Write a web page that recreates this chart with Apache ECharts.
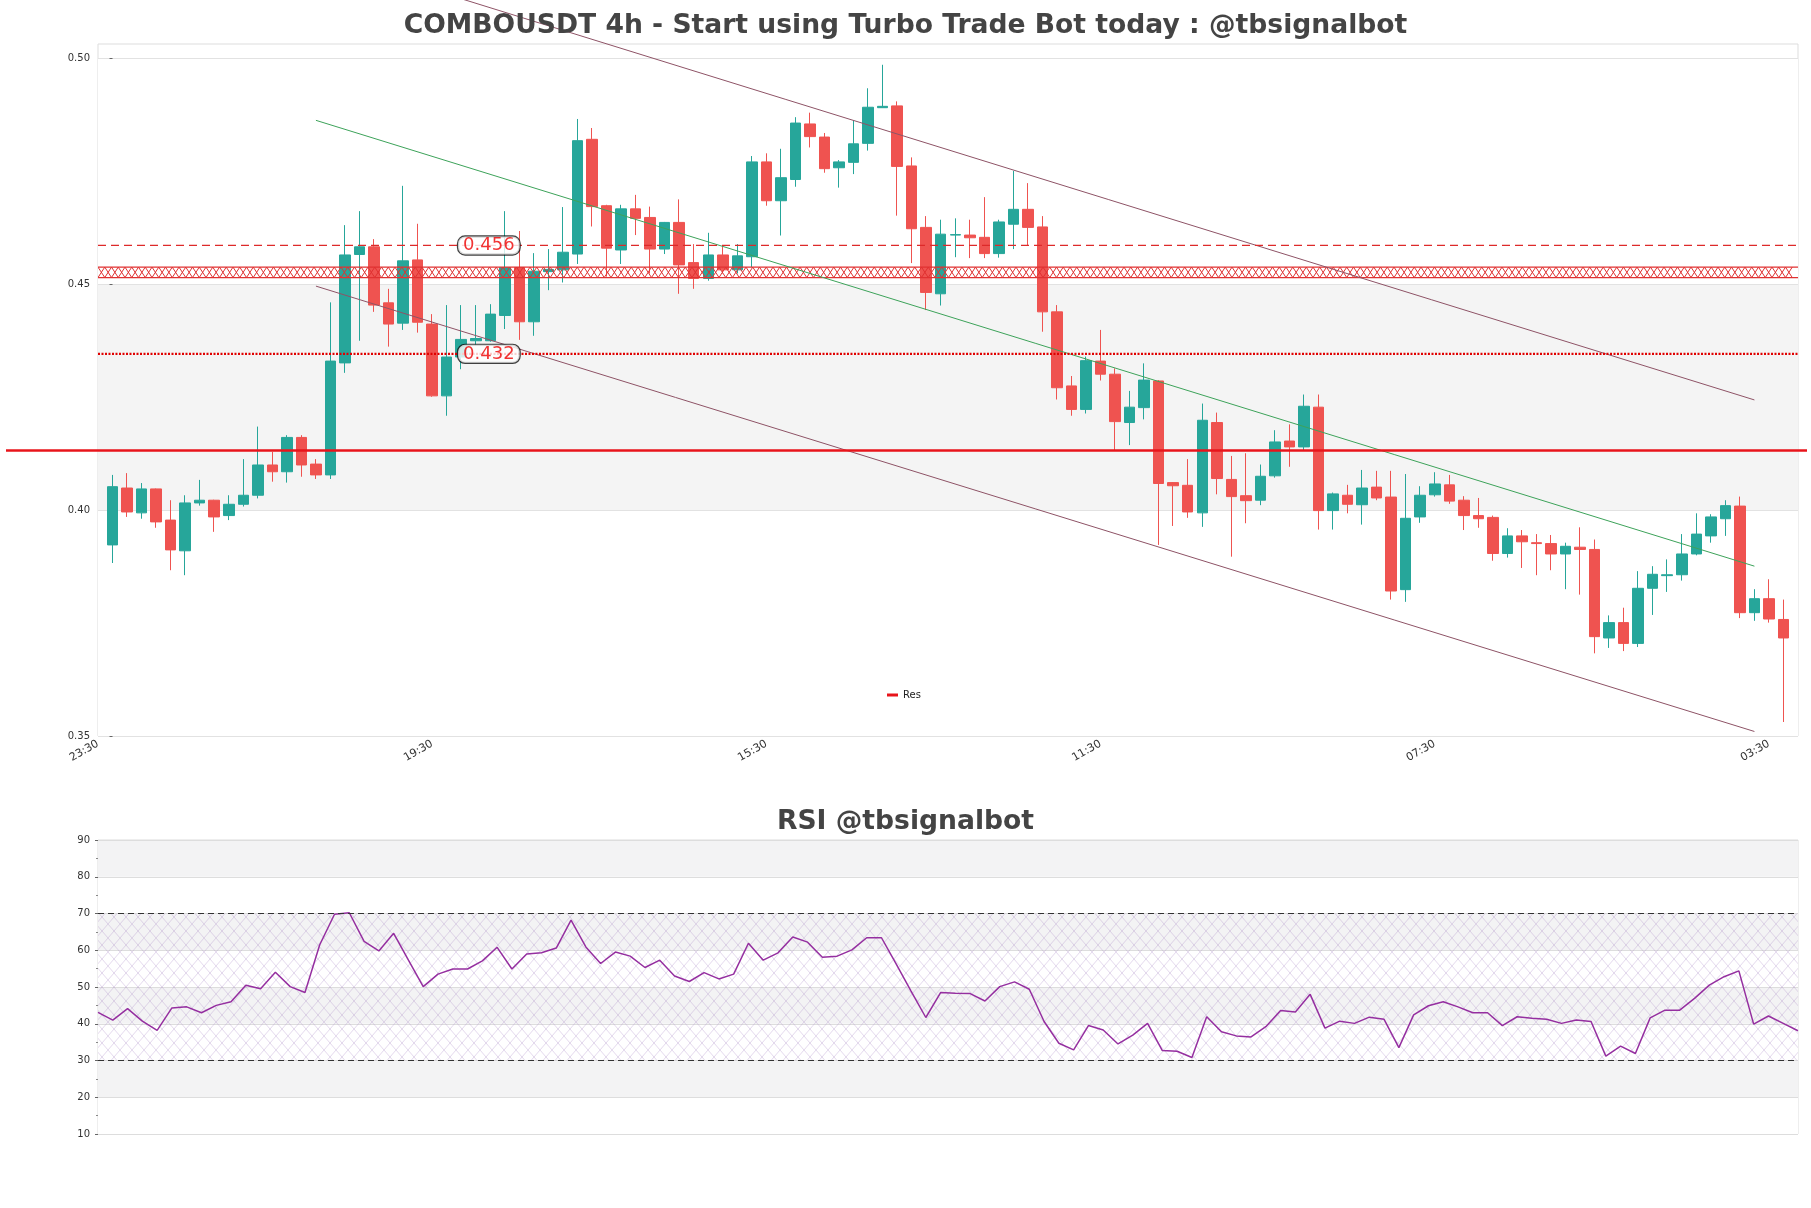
<!DOCTYPE html>
<html><head><meta charset="utf-8">
<script src="https://cdn.jsdelivr.net/npm/echarts@6/dist/echarts.min.js"></script>
<style>html,body{margin:0;padding:0;background:#fff}#c{width:1811px;height:1208px}</style>
</head><body><div id="c"></div>
<script>
// ---------- DATA ----------
const tickLabels = ['23:30','19:30','15:30','11:30','07:30','03:30'];
const priceTicks = [0.35, 0.40, 0.45, 0.50];
const opens  = [.3923,.4049,.3994,.4047,.3978,.3910,.4016,.4022,.3988,.4013,
 .4033,.4100,.4085,.4161,.4102,.4078,.4326,.4566,.4583,.4459,
 .4414,.4554,.4412,.4253,.4339,.4375,.4375,.4431,.4537,.4417,
 .4528,.4532,.4567,.4821,.4674,.4576,.4667,.4648,.4578,.4637,
 .4548,.4513,.4565,.4532,.4561,.4771,.4685,.4732,.4855,.4826,
 .4758,.4770,.4812,.4891,.4895,.4762,.4626,.4479,.4609,.4609,
 .4604,.4568,.4633,.4666,.4627,.4439,.4275,.4223,.4330,.4301,
 .4194,.4227,.4286,.4061,.4055,.3994,.4194,.4068,.4032,.4022,
 .4076,.4153,.4140,.4228,.3999,.4033,.4012,.4051,.4029,.3824,
 .3985,.4034,.4056,.4022,.3988,.3984,.3904,.3943,.3928,.3926,
 .3903,.3918,.3913,.3717,.3751,.3705,.3827,.3855,.3857,.3903,
 .3943,.3981,.4009,.3773,.3804,.3758];
const closes = [.4052,.3996,.4047,.3974,.3912,.4016,.4022,.3985,.4013,.4033,
 .4100,.4085,.4161,.4100,.4078,.4330,.4565,.4583,.4454,.4412,
 .4552,.4416,.4253,.4339,.4378,.4380,.4434,.4537,.4417,.4529,
 .4533,.4571,.4818,.4672,.4580,.4667,.4646,.4578,.4637,.4543,
 .4513,.4565,.4532,.4563,.4771,.4685,.4736,.4857,.4827,.4756,
 .4771,.4811,.4892,.4894,.4761,.4623,.4482,.4611,.4610,.4603,
 .4568,.4638,.4666,.4626,.4439,.4271,.4223,.4331,.4301,.4196,
 .4228,.4288,.4059,.4054,.3996,.4199,.4070,.4030,.4021,.4075,
 .4151,.4140,.4230,.3999,.4036,.4013,.4049,.4027,.3821,.3982,
 .4033,.4058,.4020,.3988,.3981,.3904,.3943,.3930,.3926,.3903,
 .3920,.3913,.3720,.3751,.3705,.3827,.3858,.3857,.3903,.3947,
 .3985,.4010,.3773,.3804,.3759,.3717];
const lows   = [.3883,.3985,.3981,.3961,.3867,.3856,.4010,.3952,.3978,.4008,
 .4026,.4063,.4061,.4074,.4069,.4069,.4304,.4375,.4439,.4362,
 .4399,.4393,.4251,.4209,.4312,.4365,.4373,.4401,.4377,.4386,
 .4487,.4504,.4545,.4628,.4517,.4545,.4609,.4524,.4567,.4479,
 .4490,.4508,.4524,.4524,.4538,.4674,.4608,.4716,.4803,.4747,
 .4714,.4744,.4796,.4891,.4652,.4547,.4443,.4453,.4560,.4558,
 .4558,.4559,.4578,.4587,.4395,.4245,.4209,.4214,.4287,.4131,
 .4144,.4201,.3923,.3965,.3983,.3963,.4035,.3897,.3971,.4011,
 .4072,.4096,.4132,.3957,.3957,.3993,.3968,.4022,.3802,.3797,
 .3972,.4030,.4014,.3956,.3961,.3888,.3895,.3872,.3856,.3867,
 .3825,.3813,.3683,.3695,.3688,.3697,.3768,.3819,.3844,.3900,
 .3928,.3943,.3761,.3755,.3751,.3531];
const highs  = [.4078,.4082,.4060,.4048,.4022,.4033,.4067,.4023,.4033,.4113,
 .4185,.4129,.4166,.4166,.4113,.4460,.4631,.4662,.4600,.4490,
 .4718,.4634,.4434,.4454,.4454,.4454,.4456,.4662,.4618,.4569,
 .4578,.4671,.4866,.4846,.4676,.4676,.4698,.4672,.4638,.4688,
 .4589,.4614,.4587,.4589,.4784,.4790,.4800,.4870,.4880,.4835,
 .4775,.4863,.4934,.4986,.4905,.4781,.4651,.4643,.4646,.4643,
 .4693,.4643,.4751,.4724,.4651,.4454,.4297,.4340,.4399,.4314,
 .4264,.4325,.4288,.4062,.4113,.4236,.4216,.4120,.4126,.4101,
 .4177,.4190,.4256,.4256,.4039,.4056,.4089,.4087,.4087,.4080,
 .4053,.4084,.4078,.4031,.4027,.3988,.3960,.3956,.3947,.3945,
 .3928,.3962,.3935,.3767,.3784,.3865,.3876,.3891,.3947,.3993,
 .3991,.4022,.4030,.3825,.3847,.3802];
const rsi = [43.1,41.0,44.1,40.7,38.2,44.3,44.6,43.0,45.0,46.0,
 50.5,49.5,54.0,50.1,48.5,61.5,69.8,70.2,62.4,59.8,
 64.6,57.3,50.1,53.5,54.9,54.9,57.1,60.8,54.9,59.0,
 59.3,60.6,68.2,60.9,56.4,59.5,58.4,55.3,57.3,53.0,
 51.5,53.9,52.2,53.5,61.9,57.3,59.3,63.6,62.2,58.1,
 58.4,60.1,63.4,63.4,56.2,48.9,41.7,48.5,48.3,48.2,
 46.2,50.1,51.4,49.4,40.6,34.7,32.9,39.5,38.3,34.5,
 36.9,40.1,32.7,32.5,30.8,41.9,37.8,36.7,36.4,39.2,
 43.6,43.2,48.0,38.8,40.7,40.1,41.8,41.2,33.5,42.4,
 44.9,46.0,44.6,43.0,43.0,39.5,41.9,41.5,41.2,40.1,
 41.0,40.6,31.2,33.9,31.9,41.6,43.7,43.7,46.9,50.5,
 52.8,54.4,39.9,42.1,40.1,38.1];
const resLevel = 0.4132;
const dashedLevel = 0.4586;
const dottedLevel = 0.4346;
const zoneLow = 0.4515, zoneHigh = 0.4538;
const levelLabels = ['0.456', '0.432'];
const labelIndex = 25.9;
const channelIdx = [14, 113];
const upperLine = [0.5232, 0.4244];
const midLine   = [0.4863, 0.3876];
const lowerLine = [0.4496, 0.3510];
const rsiLevels = [70, 30];

// ---------- BUILD ----------
const N = opens.length;
const TICK_STEP = 23;
const cats = [];
for (let k = 0; k < N + 2; k++) cats.push(k % TICK_STEP === 0 ? (tickLabels[k / TICK_STEP] || '') : '');
const candleData = ['-'];
for (let i = 0; i < N; i++) candleData.push([opens[i], closes[i], lows[i], highs[i]]);
candleData.push('-');

const FONT = 'DejaVu Sans';
const UP = '#26a69a', DOWN = '#ef5350';

// hatch pattern for RSI
const pc = document.createElement('canvas'); pc.width = 12; pc.height = 14;
const g = pc.getContext('2d');
g.strokeStyle = 'rgba(175,140,200,0.42)'; g.lineWidth = 0.8;
g.beginPath(); g.moveTo(0,0); g.lineTo(12,14); g.moveTo(12,0); g.lineTo(0,14); g.stroke();

const chart = echarts.init(document.getElementById('c'), null, {renderer: 'canvas'});
const option = {
  animation: false,
  backgroundColor: '#fff',
  textStyle: {fontFamily: FONT},
  title: [
    {text: 'COMBOUSDT 4h - Start using Turbo Trade Bot today : @tbsignalbot', left: 'center', top: 8,
     textStyle: {fontSize: 26.6, fontWeight: 'bold', color: '#444', fontFamily: FONT}},
    {text: 'RSI @tbsignalbot', left: 'center', top: 804,
     textStyle: {fontSize: 26.6, fontWeight: 'bold', color: '#444', fontFamily: FONT}}
  ],
  legend: {
    data: [{name: 'Res', icon: 'rect'}], left: 882, top: 685, itemWidth: 11, itemHeight: 3,
    textStyle: {fontSize: 10, color: '#222', fontFamily: FONT}
  },
  grid: [
    {left: 98, top: 44, width: 1700, height: 692, show: true, borderColor: '#ddd', borderWidth: 1, backgroundColor: 'transparent'},
    {left: 98, top: 840, width: 1700, height: 294, show: true, borderColor: '#ddd', borderWidth: 1},
    {left: 6, top: 44, width: 1801, height: 692}
  ],
  xAxis: [
    {type: 'category', gridIndex: 0, data: cats, boundaryGap: false,
     axisLine: {show: false}, axisTick: {show: false},
     axisLabel: {interval: TICK_STEP - 1, rotate: 30, fontSize: 11, color: '#333', margin: 7, fontFamily: FONT},
     splitLine: {show: false}},
    {type: 'value', gridIndex: 0, min: -1, max: N, show: false},
    {type: 'category', gridIndex: 1, data: rsi.map((_, i) => i), boundaryGap: false,
     axisLine: {show: false}, axisTick: {show: false}, axisLabel: {show: false}},
    {type: 'value', gridIndex: 2, min: 0, max: 1, show: false}
  ],
  yAxis: [
    {type: 'value', gridIndex: 0, min: 0.35, max: 0.5032, interval: 0.05,
     axisLine: {show: false}, axisTick: {show: true, length: 3, customValues: priceTicks, lineStyle: {color: '#666'}},
     axisLabel: {fontSize: 10, color: '#333', margin: 8, fontFamily: FONT, customValues: priceTicks,
       formatter: v => v.toFixed(2)},
     splitLine: {show: true, lineStyle: {color: '#e2e2e2'}},
     splitArea: {show: true, areaStyle: {color: ['#ffffff', '#f4f4f4', '#ffffff', '#ffffff']}}},
    {type: 'value', gridIndex: 1, min: 10, max: 90, interval: 10,
     axisLine: {show: false}, axisTick: {show: true, length: 3, lineStyle: {color: '#666'}},
     minorTick: {show: true, splitNumber: 2, length: 2, lineStyle: {color: '#888'}},
     axisLabel: {fontSize: 10, color: '#333', margin: 8, fontFamily: FONT},
     splitLine: {show: true, lineStyle: {color: '#dddddd'}},
     splitArea: {show: true, areaStyle: {color: ['#ffffff', '#f3f3f4']}}},
    {type: 'value', gridIndex: 2, min: 0.35, max: 0.5032, show: false}
  ],
  series: [
    {type: 'candlestick', name: 'price', xAxisIndex: 0, yAxisIndex: 0, data: candleData, barWidth: 11, z: 2,
     itemStyle: {color: UP, color0: DOWN, borderColor: UP, borderColor0: DOWN, borderWidth: 1}},
    {type: 'custom', name: 'zone', xAxisIndex: 1, yAxisIndex: 0, z: 3, clip: true,
     data: [[0, zoneLow, zoneHigh]], encode: {x: 0, y: [1, 2]},
     renderItem: function (params, api) {
       const cs = params.coordSys;
       const yb = api.coord([0, api.value(1)])[1];
       const yt = api.coord([0, api.value(2)])[1];
       const x0 = cs.x, x1 = cs.x + cs.width, p = 13.5;
       const a = [], b = [];
       let k = 0;
       for (let x = x0; x <= x1 + 0.01; x += p / 2, k++) {
         a.push([x, k % 2 ? yb : yt]); b.push([x, k % 2 ? yt : yb]);
       }
       const st = {stroke: '#e03131', lineWidth: 1, fill: null};
       return {type: 'group', children: [
         {type: 'polyline', shape: {points: a}, style: st},
         {type: 'polyline', shape: {points: b}, style: st},
         {type: 'line', shape: {x1: x0, y1: yt, x2: x1, y2: yt}, style: {stroke: '#e03131', lineWidth: 1.2}},
         {type: 'line', shape: {x1: x0, y1: yb, x2: x1, y2: yb}, style: {stroke: '#e03131', lineWidth: 1.2}}
       ]};
     }},
    {type: 'line', name: 'upper', xAxisIndex: 1, yAxisIndex: 0, symbol: 'none', clip: false, z: 4,
     data: [[channelIdx[0], upperLine[0]], [channelIdx[1], upperLine[1]]], lineStyle: {color: '#8e5366', width: 1}},
    {type: 'line', name: 'mid', xAxisIndex: 1, yAxisIndex: 0, symbol: 'none', z: 4,
     data: [[channelIdx[0], midLine[0]], [channelIdx[1], midLine[1]]], lineStyle: {color: '#3da35a', width: 1}},
    {type: 'line', name: 'lower', xAxisIndex: 1, yAxisIndex: 0, symbol: 'none', z: 4,
     data: [[channelIdx[0], lowerLine[0]], [channelIdx[1], lowerLine[1]]], lineStyle: {color: '#8e5366', width: 1}},
    {type: 'line', name: 'dash', xAxisIndex: 1, yAxisIndex: 0, symbol: 'none', z: 4,
     data: [[-1, dashedLevel], [N, dashedLevel]], lineStyle: {color: '#dd2a2a', width: 1.3, type: [8, 5]}},
    {type: 'line', name: 'dot', xAxisIndex: 1, yAxisIndex: 0, symbol: 'none', z: 4,
     data: [[-1, dottedLevel], [N, dottedLevel]], lineStyle: {color: '#e00000', width: 2.2, type: [2, 1.5]}},
    {type: 'scatter', name: 'labels', xAxisIndex: 1, yAxisIndex: 0, z: 6, symbol: 'circle', symbolSize: 0.1,
     itemStyle: {color: 'transparent'},
     data: [[labelIndex, dashedLevel, levelLabels[0]], [labelIndex, dottedLevel, levelLabels[1]]],
     encode: {x: 0, y: 1},
     label: {show: true, position: 'inside', formatter: p => p.value[2], color: '#ee0000', fontSize: 18,
       fontFamily: FONT, backgroundColor: '#fff', borderColor: '#111', borderWidth: 1.2, borderRadius: 7,
       padding: [0, 5, 0, 5], lineHeight: 18}},
    {type: 'line', name: 'Res', xAxisIndex: 3, yAxisIndex: 2, symbol: 'none', z: 5,
     data: [[0, resLevel], [1, resLevel]], lineStyle: {color: '#e8141b', width: 2.6}, itemStyle: {color: '#e8141b'}},
    {type: 'line', name: 'RSI', xAxisIndex: 2, yAxisIndex: 1, symbol: 'none', data: rsi, z: 4,
     lineStyle: {color: '#952fa0', width: 1.5},
     markLine: {silent: true, symbol: 'none', label: {show: false},
       lineStyle: {color: '#333', type: [6, 4], width: 1.2},
       data: rsiLevels.map(v => ({yAxis: v}))},
     markArea: {silent: true, itemStyle: {color: {image: pc, repeat: 'repeat'}},
       data: [[{yAxis: rsiLevels[1]}, {yAxis: rsiLevels[0]}]]}}
  ]
};
chart.setOption(option);
</script>
</body></html>
